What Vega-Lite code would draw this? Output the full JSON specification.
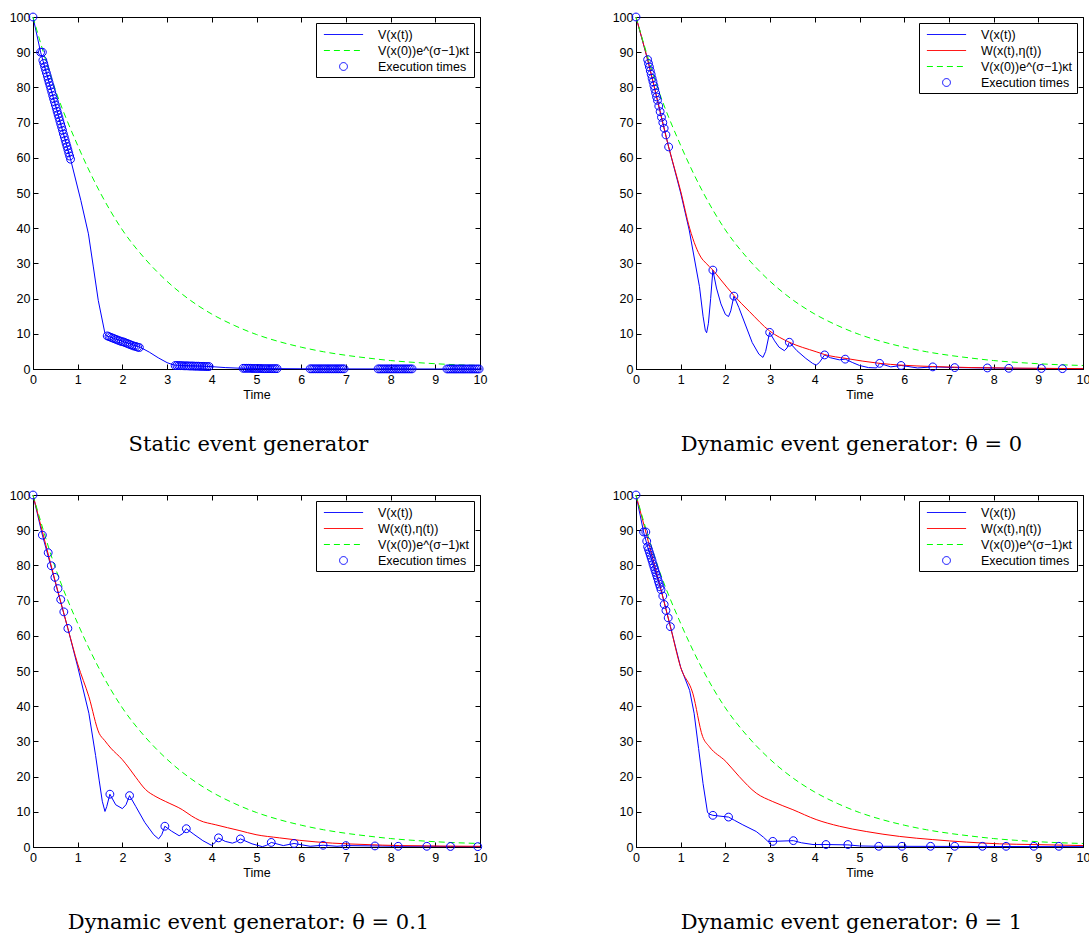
{
"$schema": "https://vega.github.io/schema/vega-lite/v6.json",
"padding": {"left": 8, "top": 10, "right": 0, "bottom": 0},
"background": "white",
"config": {
  "font": "Liberation Sans",
  "view": {"stroke": "black", "strokeWidth": 1},
  "axis": {"grid": false, "domainColor": "black", "tickColor": "black", "labelColor": "black", "labelFont": "Liberation Sans", "labelFontSize": 12.5, "titleFont": "Liberation Sans", "titleFontSize": 12.5, "titleFontWeight": "normal", "titleColor": "black", "tickSize": -5, "titlePadding": 3, "labelFlush": false, "labelOverlap": false},
  "axisX": {"labelPadding": 9},
  "axisY": {"labelPadding": 8},
  "legend": {"orient": "top-right", "offset": 6, "padding": 4, "strokeColor": "black", "fillColor": "white", "symbolSize": 196, "symbolStrokeWidth": 1, "symbolOffset": 16, "labelOffset": 27, "rowPadding": 2, "labelFont": "Liberation Sans", "labelFontSize": 12.5, "labelColor": "black", "labelLimit": 300},
  "title": {"orient": "bottom", "font": "DejaVu Serif", "fontSize": 21, "fontWeight": "normal", "color": "black", "offset": 33, "anchor": "middle", "dx": -8}
},
"columns": 2,
"spacing": {"row": 126, "column": 156},
"bounds": "flush",
"datasets": {
"p1": [
{"s":"V","t":0,"v":100},{"s":"V","t":0.17,"v":90},{"s":"V","t":0.84,"v":59.6},{"s":"V","t":1.07,"v":47.9},{"s":"V","t":1.24,"v":38.4},{"s":"V","t":1.35,"v":29},{"s":"V","t":1.46,"v":19.5},{"s":"V","t":1.61,"v":10.1},{"s":"V","t":1.65,"v":9.4},{"s":"V","t":2.41,"v":6.1},{"s":"V","t":2.6,"v":4.8},{"s":"V","t":2.8,"v":3.2},{"s":"V","t":3.0,"v":1.8},{"s":"V","t":3.16,"v":1.1},{"s":"V","t":3.96,"v":0.7},{"s":"V","t":4.3,"v":0.4},{"s":"V","t":4.67,"v":0.2},{"s":"V","t":5.5,"v":0.1},{"s":"V","t":6.2,"v":0.05},{"s":"V","t":7,"v":0.03},{"s":"V","t":10,"v":0},
{"s":"G","t":0,"v":100},{"s":"G","t":0.5,"v":79.3},{"s":"G","t":1,"v":63.5},{"s":"G","t":1.5,"v":50.2},{"s":"G","t":2,"v":39.5},{"s":"G","t":2.5,"v":31.4},{"s":"G","t":3,"v":24.9},{"s":"G","t":3.5,"v":19.7},{"s":"G","t":4,"v":15.6},{"s":"G","t":4.5,"v":12.4},{"s":"G","t":5,"v":9.8},{"s":"G","t":5.5,"v":7.8},{"s":"G","t":6,"v":6.2},{"s":"G","t":6.5,"v":4.9},{"s":"G","t":7,"v":3.9},{"s":"G","t":7.5,"v":3.1},{"s":"G","t":8,"v":2.4},{"s":"G","t":8.5,"v":1.9},{"s":"G","t":9,"v":1.5},{"s":"G","t":9.5,"v":1.2},{"s":"G","t":10,"v":1.0},
{"s":"E","t":0,"v":100},{"s":"E","t":0.17,"v":90},{"s":"E","t":0.21,"v":90},{"s":"E","t":0.22,"v":87.7},{"s":"E","t":0.24,"v":86.8},{"s":"E","t":0.26,"v":85.9},{"s":"E","t":0.28,"v":85.0},{"s":"E","t":0.30,"v":84.1},{"s":"E","t":0.32,"v":83.2},{"s":"E","t":0.34,"v":82.3},{"s":"E","t":0.36,"v":81.4},{"s":"E","t":0.38,"v":80.5},{"s":"E","t":0.40,"v":79.6},{"s":"E","t":0.42,"v":78.7},{"s":"E","t":0.44,"v":77.7},{"s":"E","t":0.46,"v":76.8},{"s":"E","t":0.48,"v":75.9},{"s":"E","t":0.50,"v":75.0},{"s":"E","t":0.52,"v":74.1},{"s":"E","t":0.54,"v":73.2},{"s":"E","t":0.56,"v":72.3},{"s":"E","t":0.58,"v":71.4},{"s":"E","t":0.60,"v":70.5},{"s":"E","t":0.62,"v":69.6},{"s":"E","t":0.64,"v":68.7},{"s":"E","t":0.66,"v":67.8},{"s":"E","t":0.68,"v":66.8},{"s":"E","t":0.70,"v":65.9},{"s":"E","t":0.72,"v":65.0},{"s":"E","t":0.74,"v":64.1},{"s":"E","t":0.76,"v":63.2},{"s":"E","t":0.78,"v":62.3},{"s":"E","t":0.80,"v":61.4},{"s":"E","t":0.82,"v":60.5},{"s":"E","t":0.84,"v":59.6},
{"s":"E","t":1.66,"v":9.4},{"s":"E","t":1.70,"v":9.2},{"s":"E","t":1.74,"v":9.0},{"s":"E","t":1.78,"v":8.8},{"s":"E","t":1.82,"v":8.6},{"s":"E","t":1.86,"v":8.4},{"s":"E","t":1.90,"v":8.2},{"s":"E","t":1.94,"v":8.0},{"s":"E","t":1.98,"v":7.8},{"s":"E","t":2.02,"v":7.7},{"s":"E","t":2.06,"v":7.5},{"s":"E","t":2.10,"v":7.3},{"s":"E","t":2.14,"v":7.1},{"s":"E","t":2.18,"v":6.9},{"s":"E","t":2.22,"v":6.7},{"s":"E","t":2.26,"v":6.5},{"s":"E","t":2.30,"v":6.4},{"s":"E","t":2.34,"v":6.2},{"s":"E","t":2.38,"v":6.1},
{"s":"E","t":3.18,"v":1.0},{"s":"E","t":3.22,"v":1.0},{"s":"E","t":3.26,"v":1.0},{"s":"E","t":3.30,"v":0.95},{"s":"E","t":3.34,"v":0.95},{"s":"E","t":3.38,"v":0.9},{"s":"E","t":3.42,"v":0.9},{"s":"E","t":3.46,"v":0.9},{"s":"E","t":3.50,"v":0.85},{"s":"E","t":3.54,"v":0.85},{"s":"E","t":3.58,"v":0.85},{"s":"E","t":3.62,"v":0.8},{"s":"E","t":3.66,"v":0.8},{"s":"E","t":3.70,"v":0.8},{"s":"E","t":3.74,"v":0.75},{"s":"E","t":3.78,"v":0.75},{"s":"E","t":3.82,"v":0.75},{"s":"E","t":3.86,"v":0.7},{"s":"E","t":3.90,"v":0.7},{"s":"E","t":3.94,"v":0.7},
{"s":"E","t":4.70,"v":0.2},{"s":"E","t":4.74,"v":0.2},{"s":"E","t":4.78,"v":0.2},{"s":"E","t":4.82,"v":0.2},{"s":"E","t":4.86,"v":0.2},{"s":"E","t":4.90,"v":0.15},{"s":"E","t":4.94,"v":0.15},{"s":"E","t":4.98,"v":0.15},{"s":"E","t":5.02,"v":0.15},{"s":"E","t":5.06,"v":0.15},{"s":"E","t":5.10,"v":0.15},{"s":"E","t":5.14,"v":0.1},{"s":"E","t":5.18,"v":0.1},{"s":"E","t":5.22,"v":0.1},{"s":"E","t":5.26,"v":0.1},{"s":"E","t":5.30,"v":0.1},{"s":"E","t":5.34,"v":0.1},{"s":"E","t":5.38,"v":0.1},{"s":"E","t":5.42,"v":0.1},{"s":"E","t":5.46,"v":0.1},
{"s":"E","t":6.20,"v":0.05},{"s":"E","t":6.24,"v":0.05},{"s":"E","t":6.28,"v":0.05},{"s":"E","t":6.32,"v":0.05},{"s":"E","t":6.36,"v":0.05},{"s":"E","t":6.40,"v":0.05},{"s":"E","t":6.44,"v":0.05},{"s":"E","t":6.48,"v":0.05},{"s":"E","t":6.52,"v":0.05},{"s":"E","t":6.56,"v":0.05},{"s":"E","t":6.60,"v":0.05},{"s":"E","t":6.64,"v":0.05},{"s":"E","t":6.68,"v":0.05},{"s":"E","t":6.72,"v":0.05},{"s":"E","t":6.76,"v":0.05},{"s":"E","t":6.80,"v":0.05},{"s":"E","t":6.84,"v":0.05},{"s":"E","t":6.88,"v":0.05},{"s":"E","t":6.92,"v":0.05},{"s":"E","t":6.96,"v":0.05},
{"s":"E","t":7.72,"v":0.03},{"s":"E","t":7.76,"v":0.03},{"s":"E","t":7.80,"v":0.03},{"s":"E","t":7.84,"v":0.03},{"s":"E","t":7.88,"v":0.03},{"s":"E","t":7.92,"v":0.03},{"s":"E","t":7.96,"v":0.03},{"s":"E","t":8.00,"v":0.03},{"s":"E","t":8.04,"v":0.03},{"s":"E","t":8.08,"v":0.03},{"s":"E","t":8.12,"v":0.03},{"s":"E","t":8.16,"v":0.03},{"s":"E","t":8.20,"v":0.03},{"s":"E","t":8.24,"v":0.03},{"s":"E","t":8.28,"v":0.03},{"s":"E","t":8.32,"v":0.03},{"s":"E","t":8.36,"v":0.03},{"s":"E","t":8.40,"v":0.03},{"s":"E","t":8.44,"v":0.03},{"s":"E","t":8.48,"v":0.03},
{"s":"E","t":9.26,"v":0.01},{"s":"E","t":9.30,"v":0.01},{"s":"E","t":9.34,"v":0.01},{"s":"E","t":9.38,"v":0.01},{"s":"E","t":9.42,"v":0.01},{"s":"E","t":9.46,"v":0.01},{"s":"E","t":9.50,"v":0.01},{"s":"E","t":9.54,"v":0.01},{"s":"E","t":9.58,"v":0.01},{"s":"E","t":9.62,"v":0.01},{"s":"E","t":9.66,"v":0.01},{"s":"E","t":9.70,"v":0.01},{"s":"E","t":9.74,"v":0.01},{"s":"E","t":9.78,"v":0.01},{"s":"E","t":9.82,"v":0.01},{"s":"E","t":9.86,"v":0.01},{"s":"E","t":9.90,"v":0.01},{"s":"E","t":9.94,"v":0.01},{"s":"E","t":9.98,"v":0.01}
],
"p2": [
{"s":"V","t":0,"v":100},{"s":"V","t":0.26,"v":87.9},{"s":"V","t":0.73,"v":63.1},{"s":"V","t":1.0,"v":50},{"s":"V","t":1.19,"v":39.5},{"s":"V","t":1.42,"v":23.4},{"s":"V","t":1.5,"v":15},{"s":"V","t":1.55,"v":11},{"s":"V","t":1.58,"v":10.3},{"s":"V","t":1.62,"v":13},{"s":"V","t":1.67,"v":20},{"s":"V","t":1.72,"v":28.1},{"s":"V","t":1.8,"v":23},{"s":"V","t":1.9,"v":18.5},{"s":"V","t":2.0,"v":15.5},{"s":"V","t":2.07,"v":14.9},{"s":"V","t":2.12,"v":16.5},{"s":"V","t":2.19,"v":20.7},{"s":"V","t":2.3,"v":17.5},{"s":"V","t":2.45,"v":12.5},{"s":"V","t":2.6,"v":7.5},{"s":"V","t":2.75,"v":4.2},{"s":"V","t":2.84,"v":3.3},{"s":"V","t":2.9,"v":5},{"s":"V","t":2.99,"v":10.4},{"s":"V","t":3.1,"v":8},{"s":"V","t":3.2,"v":6.2},{"s":"V","t":3.32,"v":5.2},{"s":"V","t":3.38,"v":6},{"s":"V","t":3.43,"v":7.6},{"s":"V","t":3.6,"v":5.2},{"s":"V","t":3.8,"v":3},{"s":"V","t":3.95,"v":1.6},{"s":"V","t":4.03,"v":1.1},{"s":"V","t":4.1,"v":1.8},{"s":"V","t":4.22,"v":4.0},{"s":"V","t":4.35,"v":3.2},{"s":"V","t":4.55,"v":2.6},{"s":"V","t":4.68,"v":2.8},{"s":"V","t":4.85,"v":1.8},{"s":"V","t":5.0,"v":1.0},{"s":"V","t":5.2,"v":0.4},{"s":"V","t":5.38,"v":0.3},{"s":"V","t":5.45,"v":1.6},{"s":"V","t":5.7,"v":0.6},{"s":"V","t":5.93,"v":1.0},{"s":"V","t":6.3,"v":0.3},{"s":"V","t":6.64,"v":0.6},{"s":"V","t":7.13,"v":0.4},{"s":"V","t":7.86,"v":0.3},{"s":"V","t":8.34,"v":0.2},{"s":"V","t":9.07,"v":0.15},{"s":"V","t":9.54,"v":0.1},{"s":"V","t":10,"v":0.1},
{"s":"W","t":0,"v":100},{"s":"W","t":0.26,"v":87.9},{"s":"W","t":0.73,"v":63.1},{"s":"W","t":1.0,"v":50.5},{"s":"W","t":1.2,"v":40},{"s":"W","t":1.34,"v":34.7},{"s":"W","t":1.45,"v":31.8},{"s":"W","t":1.57,"v":30},{"s":"W","t":1.72,"v":28.1},{"s":"W","t":1.9,"v":25.3},{"s":"W","t":2.19,"v":20.9},{"s":"W","t":2.54,"v":16.3},{"s":"W","t":2.99,"v":10.8},{"s":"W","t":3.43,"v":7.6},{"s":"W","t":4.03,"v":4.9},{"s":"W","t":4.22,"v":4.1},{"s":"W","t":4.7,"v":3.0},{"s":"W","t":5.45,"v":1.6},{"s":"W","t":5.93,"v":1.1},{"s":"W","t":6.64,"v":0.7},{"s":"W","t":7.5,"v":0.4},{"s":"W","t":8.5,"v":0.25},{"s":"W","t":10,"v":0.1},
{"s":"G","t":0,"v":100},{"s":"G","t":0.5,"v":79.3},{"s":"G","t":1,"v":63.5},{"s":"G","t":1.5,"v":50.2},{"s":"G","t":2,"v":39.5},{"s":"G","t":2.5,"v":31.4},{"s":"G","t":3,"v":24.9},{"s":"G","t":3.5,"v":19.7},{"s":"G","t":4,"v":15.6},{"s":"G","t":4.5,"v":12.4},{"s":"G","t":5,"v":9.8},{"s":"G","t":5.5,"v":7.8},{"s":"G","t":6,"v":6.2},{"s":"G","t":6.5,"v":4.9},{"s":"G","t":7,"v":3.9},{"s":"G","t":7.5,"v":3.1},{"s":"G","t":8,"v":2.4},{"s":"G","t":8.5,"v":1.9},{"s":"G","t":9,"v":1.5},{"s":"G","t":9.5,"v":1.2},{"s":"G","t":10,"v":1.0},
{"s":"E","t":0,"v":100},{"s":"E","t":0.26,"v":87.9},{"s":"E","t":0.28,"v":86.8},{"s":"E","t":0.30,"v":85.8},{"s":"E","t":0.32,"v":84.7},{"s":"E","t":0.34,"v":83.7},{"s":"E","t":0.36,"v":82.6},{"s":"E","t":0.38,"v":81.6},{"s":"E","t":0.40,"v":80.5},{"s":"E","t":0.42,"v":79.5},{"s":"E","t":0.44,"v":78.4},{"s":"E","t":0.46,"v":77.3},{"s":"E","t":0.48,"v":76.3},{"s":"E","t":0.51,"v":74.7},{"s":"E","t":0.54,"v":73.1},{"s":"E","t":0.57,"v":71.5},{"s":"E","t":0.60,"v":70.0},{"s":"E","t":0.63,"v":68.4},{"s":"E","t":0.67,"v":66.5},{"s":"E","t":0.73,"v":63.1},
{"s":"E","t":1.72,"v":28.1},{"s":"E","t":2.19,"v":20.7},{"s":"E","t":2.99,"v":10.4},{"s":"E","t":3.43,"v":7.6},{"s":"E","t":4.22,"v":4.0},{"s":"E","t":4.68,"v":2.8},{"s":"E","t":5.45,"v":1.6},{"s":"E","t":5.93,"v":1.0},{"s":"E","t":6.64,"v":0.6},{"s":"E","t":7.13,"v":0.4},{"s":"E","t":7.86,"v":0.3},{"s":"E","t":8.34,"v":0.2},{"s":"E","t":9.07,"v":0.15},{"s":"E","t":9.54,"v":0.1}
],
"p3": [
{"s":"V","t":0,"v":100},{"s":"V","t":0.21,"v":88.6},{"s":"V","t":0.78,"v":62.1},{"s":"V","t":1.0,"v":51.2},{"s":"V","t":1.25,"v":38},{"s":"V","t":1.4,"v":26},{"s":"V","t":1.48,"v":19},{"s":"V","t":1.55,"v":13},{"s":"V","t":1.61,"v":10.1},{"s":"V","t":1.65,"v":11.5},{"s":"V","t":1.72,"v":15.0},{"s":"V","t":1.85,"v":12},{"s":"V","t":2.0,"v":10.9},{"s":"V","t":2.08,"v":12},{"s":"V","t":2.16,"v":14.6},{"s":"V","t":2.3,"v":11.5},{"s":"V","t":2.5,"v":7},{"s":"V","t":2.7,"v":3.5},{"s":"V","t":2.81,"v":2.3},{"s":"V","t":2.88,"v":3.5},{"s":"V","t":2.95,"v":5.9},{"s":"V","t":3.1,"v":4.5},{"s":"V","t":3.27,"v":3.2},{"s":"V","t":3.35,"v":3.8},{"s":"V","t":3.43,"v":5.2},{"s":"V","t":3.6,"v":3.6},{"s":"V","t":3.8,"v":1.8},{"s":"V","t":3.99,"v":0.5},{"s":"V","t":4.07,"v":1.2},{"s":"V","t":4.15,"v":2.6},{"s":"V","t":4.3,"v":1.6},{"s":"V","t":4.46,"v":1.1},{"s":"V","t":4.55,"v":1.5},{"s":"V","t":4.64,"v":2.3},{"s":"V","t":4.9,"v":0.9},{"s":"V","t":5.13,"v":0.1},{"s":"V","t":5.23,"v":0.5},{"s":"V","t":5.33,"v":1.3},{"s":"V","t":5.6,"v":0.4},{"s":"V","t":5.84,"v":1.0},{"s":"V","t":6.2,"v":0.2},{"s":"V","t":6.49,"v":0.5},{"s":"V","t":6.8,"v":0.2},{"s":"V","t":7.0,"v":0.4},{"s":"V","t":7.65,"v":0.3},{"s":"V","t":8.17,"v":0.2},{"s":"V","t":8.81,"v":0.2},{"s":"V","t":9.34,"v":0.15},{"s":"V","t":10,"v":0.1},
{"s":"W","t":0,"v":100},{"s":"W","t":0.78,"v":62.1},{"s":"W","t":1.0,"v":52},{"s":"W","t":1.25,"v":42.7},{"s":"W","t":1.48,"v":32.3},{"s":"W","t":1.6,"v":30.3},{"s":"W","t":1.74,"v":28.1},{"s":"W","t":2.0,"v":24.8},{"s":"W","t":2.15,"v":22.4},{"s":"W","t":2.3,"v":19.8},{"s":"W","t":2.52,"v":16.3},{"s":"W","t":2.75,"v":14.3},{"s":"W","t":2.97,"v":12.9},{"s":"W","t":3.34,"v":10.6},{"s":"W","t":3.55,"v":8.8},{"s":"W","t":3.72,"v":7.6},{"s":"W","t":4.09,"v":6.3},{"s":"W","t":4.61,"v":4.7},{"s":"W","t":4.99,"v":3.5},{"s":"W","t":5.51,"v":2.6},{"s":"W","t":5.96,"v":1.9},{"s":"W","t":6.7,"v":1.1},{"s":"W","t":7.45,"v":0.7},{"s":"W","t":8.2,"v":0.4},{"s":"W","t":10,"v":0.2},
{"s":"G","t":0,"v":100},{"s":"G","t":0.5,"v":79.3},{"s":"G","t":1,"v":63.5},{"s":"G","t":1.5,"v":50.2},{"s":"G","t":2,"v":39.5},{"s":"G","t":2.5,"v":31.4},{"s":"G","t":3,"v":24.9},{"s":"G","t":3.5,"v":19.7},{"s":"G","t":4,"v":15.6},{"s":"G","t":4.5,"v":12.4},{"s":"G","t":5,"v":9.8},{"s":"G","t":5.5,"v":7.8},{"s":"G","t":6,"v":6.2},{"s":"G","t":6.5,"v":4.9},{"s":"G","t":7,"v":3.9},{"s":"G","t":7.5,"v":3.1},{"s":"G","t":8,"v":2.4},{"s":"G","t":8.5,"v":1.9},{"s":"G","t":9,"v":1.5},{"s":"G","t":9.5,"v":1.2},{"s":"G","t":10,"v":1.0},
{"s":"E","t":0,"v":100},{"s":"E","t":0.21,"v":88.6},{"s":"E","t":0.34,"v":83.6},{"s":"E","t":0.41,"v":79.9},{"s":"E","t":0.49,"v":76.6},{"s":"E","t":0.56,"v":73.4},{"s":"E","t":0.62,"v":70.3},{"s":"E","t":0.69,"v":66.8},{"s":"E","t":0.78,"v":62.1},{"s":"E","t":1.72,"v":15.0},{"s":"E","t":2.16,"v":14.6},{"s":"E","t":2.95,"v":5.9},{"s":"E","t":3.43,"v":5.2},{"s":"E","t":4.15,"v":2.6},{"s":"E","t":4.64,"v":2.3},{"s":"E","t":5.33,"v":1.3},{"s":"E","t":5.84,"v":1.0},{"s":"E","t":6.49,"v":0.5},{"s":"E","t":7.0,"v":0.4},{"s":"E","t":7.65,"v":0.3},{"s":"E","t":8.17,"v":0.2},{"s":"E","t":8.81,"v":0.2},{"s":"E","t":9.34,"v":0.15},{"s":"E","t":9.95,"v":0.1}
],
"p4": [
{"s":"V","t":0,"v":100},{"s":"V","t":0.17,"v":89.5},{"s":"V","t":0.26,"v":85.3},{"s":"V","t":0.56,"v":73.1},{"s":"V","t":0.77,"v":62.6},{"s":"V","t":1.0,"v":51},{"s":"V","t":1.2,"v":44.5},{"s":"V","t":1.3,"v":38},{"s":"V","t":1.4,"v":28},{"s":"V","t":1.5,"v":18},{"s":"V","t":1.6,"v":9.8},{"s":"V","t":1.65,"v":9.3},{"s":"V","t":1.72,"v":9.0},{"s":"V","t":2.07,"v":8.5},{"s":"V","t":2.2,"v":7.6},{"s":"V","t":2.39,"v":6.3},{"s":"V","t":2.69,"v":4.4},{"s":"V","t":2.85,"v":2.8},{"s":"V","t":2.95,"v":1.6},{"s":"V","t":3.06,"v":1.6},{"s":"V","t":3.52,"v":1.8},{"s":"V","t":3.7,"v":1.2},{"s":"V","t":3.96,"v":0.7},{"s":"V","t":4.25,"v":0.7},{"s":"V","t":4.74,"v":0.6},{"s":"V","t":5.0,"v":0.3},{"s":"V","t":5.43,"v":0.2},{"s":"V","t":10,"v":0.1},
{"s":"W","t":0,"v":100},{"s":"W","t":0.77,"v":62.6},{"s":"W","t":1.0,"v":51},{"s":"W","t":1.27,"v":43.7},{"s":"W","t":1.49,"v":31.4},{"s":"W","t":1.64,"v":28.5},{"s":"W","t":2.01,"v":24.3},{"s":"W","t":2.31,"v":20},{"s":"W","t":2.69,"v":15.3},{"s":"W","t":3.06,"v":12.9},{"s":"W","t":3.51,"v":10.6},{"s":"W","t":4.03,"v":7.8},{"s":"W","t":4.55,"v":5.9},{"s":"W","t":5.15,"v":4.4},{"s":"W","t":5.9,"v":3.0},{"s":"W","t":6.64,"v":2.1},{"s":"W","t":7.39,"v":1.4},{"s":"W","t":8.13,"v":0.9},{"s":"W","t":8.88,"v":0.7},{"s":"W","t":10,"v":0.4},
{"s":"G","t":0,"v":100},{"s":"G","t":0.5,"v":79.3},{"s":"G","t":1,"v":63.5},{"s":"G","t":1.5,"v":50.2},{"s":"G","t":2,"v":39.5},{"s":"G","t":2.5,"v":31.4},{"s":"G","t":3,"v":24.9},{"s":"G","t":3.5,"v":19.7},{"s":"G","t":4,"v":15.6},{"s":"G","t":4.5,"v":12.4},{"s":"G","t":5,"v":9.8},{"s":"G","t":5.5,"v":7.8},{"s":"G","t":6,"v":6.2},{"s":"G","t":6.5,"v":4.9},{"s":"G","t":7,"v":3.9},{"s":"G","t":7.5,"v":3.1},{"s":"G","t":8,"v":2.4},{"s":"G","t":8.5,"v":1.9},{"s":"G","t":9,"v":1.5},{"s":"G","t":9.5,"v":1.2},{"s":"G","t":10,"v":1.0},
{"s":"E","t":0,"v":100},{"s":"E","t":0.17,"v":89.5},{"s":"E","t":0.22,"v":89.5},{"s":"E","t":0.24,"v":86.9},{"s":"E","t":0.26,"v":85.3},{"s":"E","t":0.28,"v":84.5},{"s":"E","t":0.30,"v":83.7},{"s":"E","t":0.32,"v":82.9},{"s":"E","t":0.34,"v":82.1},{"s":"E","t":0.36,"v":81.3},{"s":"E","t":0.38,"v":80.4},{"s":"E","t":0.40,"v":79.6},{"s":"E","t":0.42,"v":78.8},{"s":"E","t":0.44,"v":78.0},{"s":"E","t":0.46,"v":77.2},{"s":"E","t":0.48,"v":76.4},{"s":"E","t":0.50,"v":75.5},{"s":"E","t":0.52,"v":74.7},{"s":"E","t":0.54,"v":73.9},{"s":"E","t":0.56,"v":73.1},{"s":"E","t":0.60,"v":71.3},{"s":"E","t":0.63,"v":68.9},{"s":"E","t":0.67,"v":67.2},{"s":"E","t":0.72,"v":65.1},{"s":"E","t":0.77,"v":62.6},
{"s":"E","t":1.72,"v":9.0},{"s":"E","t":2.07,"v":8.5},{"s":"E","t":3.06,"v":1.6},{"s":"E","t":3.52,"v":1.8},{"s":"E","t":4.25,"v":0.7},{"s":"E","t":4.74,"v":0.7},{"s":"E","t":5.43,"v":0.2},{"s":"E","t":5.95,"v":0.2},{"s":"E","t":6.59,"v":0.2},{"s":"E","t":7.13,"v":0.2},{"s":"E","t":7.75,"v":0.2},{"s":"E","t":8.28,"v":0.2},{"s":"E","t":8.9,"v":0.2},{"s":"E","t":9.46,"v":0.2}
]
},
"concat": [
{
 "width": 447, "height": 352,
 "title": {"text": "Static event generator"},
 "data": {"name": "p1"},
 "layer": [
  {"transform": [{"filter": "datum.s == 'V'"}],
   "mark": {"type": "line", "strokeWidth": 1},
   "encoding": {
    "x": {"field": "t", "type": "quantitative", "scale": {"domain": [0, 10], "nice": false}, "axis": {"values": [0,1,2,3,4,5,6,7,8,9,10], "title": "Time"}},
    "y": {"field": "v", "type": "quantitative", "scale": {"domain": [0, 100], "nice": false}, "axis": {"values": [0,10,20,30,40,50,60,70,80,90,100], "title": null}},
    "color": {"field": "s", "type": "nominal", "scale": {"domain": ["V","G","E"], "range": ["#0000ff","#00ff00","#0000ff"]}, "legend": {"title": null, "labelExpr": "datum.value == 'V' ? 'V(x(t))' : datum.value == 'W' ? 'W(x(t),η(t))' : datum.value == 'G' ? 'V(x(0))e^(σ−1)κt' : 'Execution times'", "encoding": {"symbols": {"shape": {"value": {"expr": "datum.value == 'E' ? 'M-0.56,0A0.56,0.56,0,1,0,0.56,0A0.56,0.56,0,1,0,-0.56,0' : 'M-2.8,0L2.8,0'"}}, "strokeDash": {"value": {"expr": "datum.value == 'G' ? [6,4] : [1,0]"}}, "fill": {"value": "transparent"}, "strokeWidth": {"value": 1}}}}}
   }},
  {"transform": [{"filter": "datum.s == 'G'"}],
   "mark": {"type": "line", "strokeWidth": 1, "interpolate": "monotone", "strokeDash": [6,4]},
   "encoding": {
    "x": {"field": "t", "type": "quantitative", "axis": null},
    "y": {"field": "v", "type": "quantitative", "axis": null},
    "color": {"field": "s", "type": "nominal"}
   }},
  {"transform": [{"filter": "datum.s == 'E'"}],
   "mark": {"type": "point", "filled": false, "size": 196, "strokeWidth": 1, "opacity": 1, "shape": "M-0.56,0A0.56,0.56,0,1,0,0.56,0A0.56,0.56,0,1,0,-0.56,0"},
   "encoding": {
    "x": {"field": "t", "type": "quantitative", "axis": {"orient": "top", "labels": false, "title": null, "domain": false, "values": [0,1,2,3,4,5,6,7,8,9,10]}},
    "y": {"field": "v", "type": "quantitative", "axis": {"orient": "right", "labels": false, "title": null, "domain": false, "values": [0,10,20,30,40,50,60,70,80,90,100]}},
    "color": {"field": "s", "type": "nominal"}
   }}
 ],
 "resolve": {"axis": {"x": "independent", "y": "independent"}}
},
{
 "width": 447, "height": 352,
 "title": {"text": "Dynamic event generator: θ = 0"},
 "data": {"name": "p2"},
 "layer": [
  {"transform": [{"filter": "datum.s == 'V'"}],
   "mark": {"type": "line", "strokeWidth": 1},
   "encoding": {
    "x": {"field": "t", "type": "quantitative", "scale": {"domain": [0, 10], "nice": false}, "axis": {"values": [0,1,2,3,4,5,6,7,8,9,10], "title": "Time"}},
    "y": {"field": "v", "type": "quantitative", "scale": {"domain": [0, 100], "nice": false}, "axis": {"values": [0,10,20,30,40,50,60,70,80,90,100], "title": null}},
    "color": {"field": "s", "type": "nominal", "scale": {"domain": ["V","W","G","E"], "range": ["#0000ff","#ff0000","#00ff00","#0000ff"]}, "legend": {"title": null, "labelExpr": "datum.value == 'V' ? 'V(x(t))' : datum.value == 'W' ? 'W(x(t),η(t))' : datum.value == 'G' ? 'V(x(0))e^(σ−1)κt' : 'Execution times'", "encoding": {"symbols": {"shape": {"value": {"expr": "datum.value == 'E' ? 'M-0.56,0A0.56,0.56,0,1,0,0.56,0A0.56,0.56,0,1,0,-0.56,0' : 'M-2.8,0L2.8,0'"}}, "strokeDash": {"value": {"expr": "datum.value == 'G' ? [6,4] : [1,0]"}}, "fill": {"value": "transparent"}, "strokeWidth": {"value": 1}}}}}
   }},
  {"transform": [{"filter": "datum.s == 'W'"}],
   "mark": {"type": "line", "strokeWidth": 1, "interpolate": "monotone"},
   "encoding": {
    "x": {"field": "t", "type": "quantitative", "axis": null},
    "y": {"field": "v", "type": "quantitative", "axis": null},
    "color": {"field": "s", "type": "nominal"}
   }},
  {"transform": [{"filter": "datum.s == 'G'"}],
   "mark": {"type": "line", "strokeWidth": 1, "interpolate": "monotone", "strokeDash": [6,4]},
   "encoding": {
    "x": {"field": "t", "type": "quantitative", "axis": null},
    "y": {"field": "v", "type": "quantitative", "axis": null},
    "color": {"field": "s", "type": "nominal"}
   }},
  {"transform": [{"filter": "datum.s == 'E'"}],
   "mark": {"type": "point", "filled": false, "size": 196, "strokeWidth": 1, "opacity": 1, "shape": "M-0.56,0A0.56,0.56,0,1,0,0.56,0A0.56,0.56,0,1,0,-0.56,0"},
   "encoding": {
    "x": {"field": "t", "type": "quantitative", "axis": {"orient": "top", "labels": false, "title": null, "domain": false, "values": [0,1,2,3,4,5,6,7,8,9,10]}},
    "y": {"field": "v", "type": "quantitative", "axis": {"orient": "right", "labels": false, "title": null, "domain": false, "values": [0,10,20,30,40,50,60,70,80,90,100]}},
    "color": {"field": "s", "type": "nominal"}
   }}
 ],
 "resolve": {"axis": {"x": "independent", "y": "independent"}}
},
{
 "width": 447, "height": 352,
 "title": {"text": "Dynamic event generator: θ = 0.1"},
 "data": {"name": "p3"},
 "layer": [
  {"transform": [{"filter": "datum.s == 'V'"}],
   "mark": {"type": "line", "strokeWidth": 1},
   "encoding": {
    "x": {"field": "t", "type": "quantitative", "scale": {"domain": [0, 10], "nice": false}, "axis": {"values": [0,1,2,3,4,5,6,7,8,9,10], "title": "Time"}},
    "y": {"field": "v", "type": "quantitative", "scale": {"domain": [0, 100], "nice": false}, "axis": {"values": [0,10,20,30,40,50,60,70,80,90,100], "title": null}},
    "color": {"field": "s", "type": "nominal", "scale": {"domain": ["V","W","G","E"], "range": ["#0000ff","#ff0000","#00ff00","#0000ff"]}, "legend": {"title": null, "labelExpr": "datum.value == 'V' ? 'V(x(t))' : datum.value == 'W' ? 'W(x(t),η(t))' : datum.value == 'G' ? 'V(x(0))e^(σ−1)κt' : 'Execution times'", "encoding": {"symbols": {"shape": {"value": {"expr": "datum.value == 'E' ? 'M-0.56,0A0.56,0.56,0,1,0,0.56,0A0.56,0.56,0,1,0,-0.56,0' : 'M-2.8,0L2.8,0'"}}, "strokeDash": {"value": {"expr": "datum.value == 'G' ? [6,4] : [1,0]"}}, "fill": {"value": "transparent"}, "strokeWidth": {"value": 1}}}}}
   }},
  {"transform": [{"filter": "datum.s == 'W'"}],
   "mark": {"type": "line", "strokeWidth": 1, "interpolate": "monotone"},
   "encoding": {
    "x": {"field": "t", "type": "quantitative", "axis": null},
    "y": {"field": "v", "type": "quantitative", "axis": null},
    "color": {"field": "s", "type": "nominal"}
   }},
  {"transform": [{"filter": "datum.s == 'G'"}],
   "mark": {"type": "line", "strokeWidth": 1, "interpolate": "monotone", "strokeDash": [6,4]},
   "encoding": {
    "x": {"field": "t", "type": "quantitative", "axis": null},
    "y": {"field": "v", "type": "quantitative", "axis": null},
    "color": {"field": "s", "type": "nominal"}
   }},
  {"transform": [{"filter": "datum.s == 'E'"}],
   "mark": {"type": "point", "filled": false, "size": 196, "strokeWidth": 1, "opacity": 1, "shape": "M-0.56,0A0.56,0.56,0,1,0,0.56,0A0.56,0.56,0,1,0,-0.56,0"},
   "encoding": {
    "x": {"field": "t", "type": "quantitative", "axis": {"orient": "top", "labels": false, "title": null, "domain": false, "values": [0,1,2,3,4,5,6,7,8,9,10]}},
    "y": {"field": "v", "type": "quantitative", "axis": {"orient": "right", "labels": false, "title": null, "domain": false, "values": [0,10,20,30,40,50,60,70,80,90,100]}},
    "color": {"field": "s", "type": "nominal"}
   }}
 ],
 "resolve": {"axis": {"x": "independent", "y": "independent"}}
},
{
 "width": 447, "height": 352,
 "title": {"text": "Dynamic event generator: θ = 1"},
 "data": {"name": "p4"},
 "layer": [
  {"transform": [{"filter": "datum.s == 'V'"}],
   "mark": {"type": "line", "strokeWidth": 1},
   "encoding": {
    "x": {"field": "t", "type": "quantitative", "scale": {"domain": [0, 10], "nice": false}, "axis": {"values": [0,1,2,3,4,5,6,7,8,9,10], "title": "Time"}},
    "y": {"field": "v", "type": "quantitative", "scale": {"domain": [0, 100], "nice": false}, "axis": {"values": [0,10,20,30,40,50,60,70,80,90,100], "title": null}},
    "color": {"field": "s", "type": "nominal", "scale": {"domain": ["V","W","G","E"], "range": ["#0000ff","#ff0000","#00ff00","#0000ff"]}, "legend": {"title": null, "labelExpr": "datum.value == 'V' ? 'V(x(t))' : datum.value == 'W' ? 'W(x(t),η(t))' : datum.value == 'G' ? 'V(x(0))e^(σ−1)κt' : 'Execution times'", "encoding": {"symbols": {"shape": {"value": {"expr": "datum.value == 'E' ? 'M-0.56,0A0.56,0.56,0,1,0,0.56,0A0.56,0.56,0,1,0,-0.56,0' : 'M-2.8,0L2.8,0'"}}, "strokeDash": {"value": {"expr": "datum.value == 'G' ? [6,4] : [1,0]"}}, "fill": {"value": "transparent"}, "strokeWidth": {"value": 1}}}}}
   }},
  {"transform": [{"filter": "datum.s == 'W'"}],
   "mark": {"type": "line", "strokeWidth": 1, "interpolate": "monotone"},
   "encoding": {
    "x": {"field": "t", "type": "quantitative", "axis": null},
    "y": {"field": "v", "type": "quantitative", "axis": null},
    "color": {"field": "s", "type": "nominal"}
   }},
  {"transform": [{"filter": "datum.s == 'G'"}],
   "mark": {"type": "line", "strokeWidth": 1, "interpolate": "monotone", "strokeDash": [6,4]},
   "encoding": {
    "x": {"field": "t", "type": "quantitative", "axis": null},
    "y": {"field": "v", "type": "quantitative", "axis": null},
    "color": {"field": "s", "type": "nominal"}
   }},
  {"transform": [{"filter": "datum.s == 'E'"}],
   "mark": {"type": "point", "filled": false, "size": 196, "strokeWidth": 1, "opacity": 1, "shape": "M-0.56,0A0.56,0.56,0,1,0,0.56,0A0.56,0.56,0,1,0,-0.56,0"},
   "encoding": {
    "x": {"field": "t", "type": "quantitative", "axis": {"orient": "top", "labels": false, "title": null, "domain": false, "values": [0,1,2,3,4,5,6,7,8,9,10]}},
    "y": {"field": "v", "type": "quantitative", "axis": {"orient": "right", "labels": false, "title": null, "domain": false, "values": [0,10,20,30,40,50,60,70,80,90,100]}},
    "color": {"field": "s", "type": "nominal"}
   }}
 ],
 "resolve": {"axis": {"x": "independent", "y": "independent"}}
}
],
"resolve": {"scale": {"color": "independent"}, "legend": {"color": "independent"}}
}
